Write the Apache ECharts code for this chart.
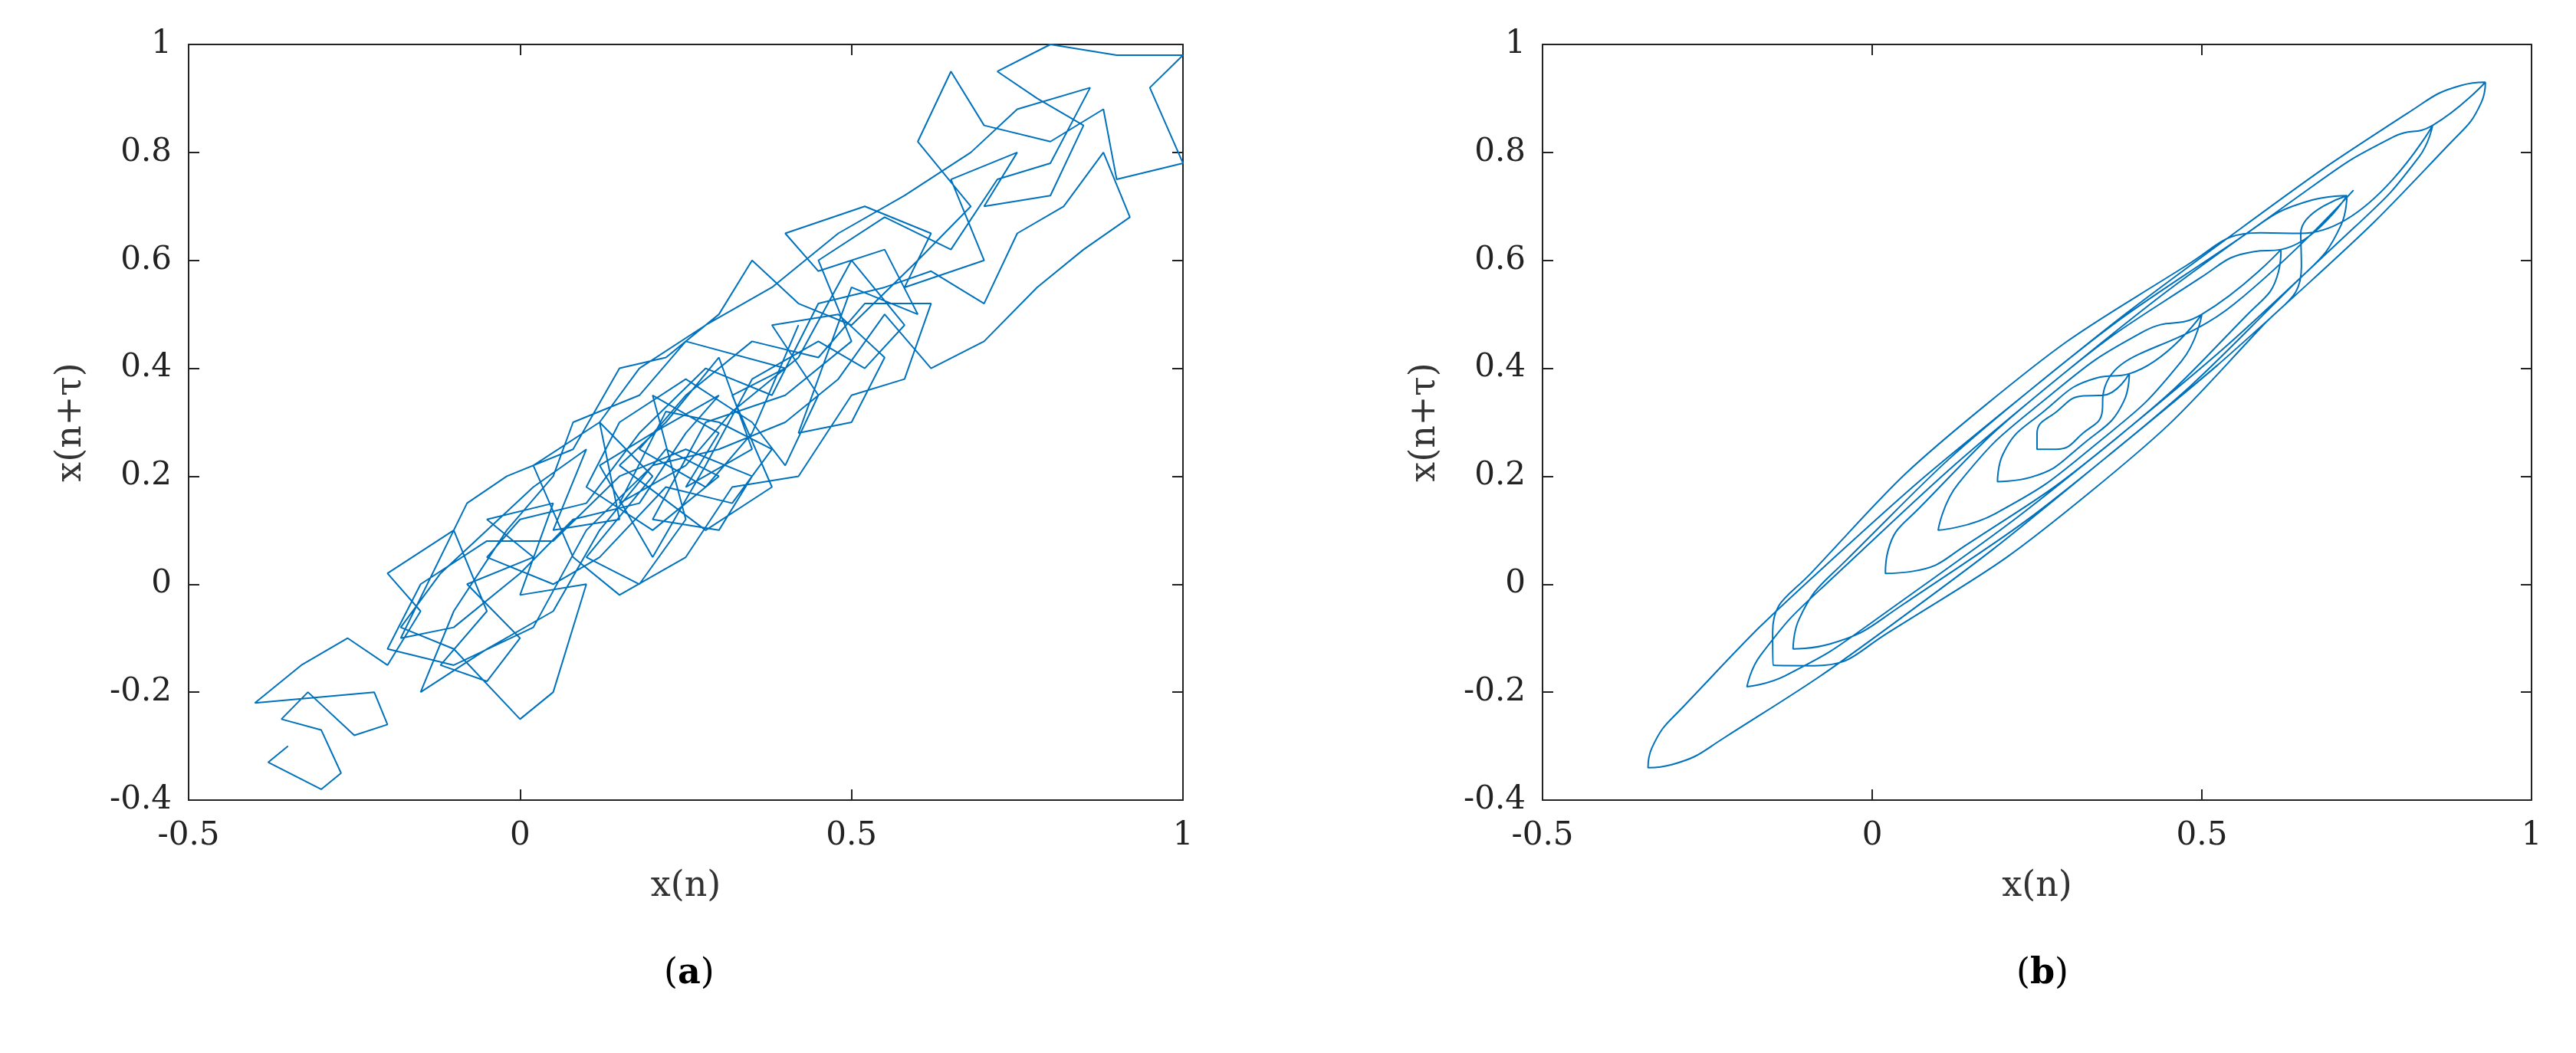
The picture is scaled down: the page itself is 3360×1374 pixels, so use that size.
<!DOCTYPE html>
<html><head><meta charset="utf-8">
<script src="https://cdn.jsdelivr.net/npm/echarts@6/dist/echarts.min.js"></script>
<style>html,body{margin:0;padding:0;background:#fff}#c{width:3360px;height:1374px}</style>
</head><body><div id="c"></div>
<script>
var xTicks = [-0.5, 0, 0.5, 1];
var yTicks = [-0.4, -0.2, 0, 0.2, 0.4, 0.6, 0.8, 1];

// (a) noisy phase trajectory
var pathA = [
[-0.35,-0.3],[-0.38,-0.33],[-0.3,-0.38],[-0.27,-0.35],[-0.3,-0.27],[-0.36,-0.25],[-0.32,-0.2],[-0.25,-0.28],[-0.2,-0.26],[-0.22,-0.2],
[-0.4,-0.22],[-0.33,-0.15],[-0.26,-0.1],[-0.2,-0.15],[-0.15,-0.05],[-0.2,0.02],[-0.1,0.1],[-0.05,-0.05],[-0.12,-0.15],[-0.05,-0.18],
[0.0,-0.1],[-0.08,0.0],[0.02,0.05],[-0.05,0.12],[0.05,0.15],[0.0,-0.02],[0.1,0.0],[0.05,-0.2],[0.0,-0.25],[-0.1,-0.12],
[-0.18,-0.08],[-0.12,0.02],[0.02,0.18],[0.1,0.25],[0.05,0.1],[0.15,0.12],[0.12,0.3],[0.2,0.2],[0.1,0.05],[0.18,0.0],
[0.25,0.12],[0.2,0.35],[0.3,0.28],[0.25,0.18],[0.35,0.25],[0.3,0.42],[0.22,0.3],[0.15,0.22],[0.28,0.1],[0.38,0.18],
[0.32,0.35],[0.4,0.4],[0.25,0.45],[0.18,0.35],[0.08,0.3],[0.05,0.2],[-0.02,0.1],[-0.1,-0.05],[-0.15,-0.2],[-0.05,-0.12],
[0.05,-0.05],[0.12,0.1],[0.22,0.25],[0.3,0.2],[0.2,0.1],[0.1,0.18],[0.15,0.3],[0.25,0.38],[0.35,0.3],[0.4,0.22],
[0.45,0.35],[0.38,0.48],[0.48,0.5],[0.55,0.42],[0.5,0.3],[0.42,0.28],[0.5,0.55],[0.6,0.5],[0.55,0.62],[0.45,0.58],
[0.4,0.65],[0.52,0.7],[0.62,0.65],[0.58,0.55],[0.7,0.6],[0.65,0.75],[0.75,0.8],[0.7,0.7],[0.8,0.72],[0.85,0.85],
[0.78,0.9],[0.72,0.95],[0.8,1.0],[0.9,0.98],[1.0,0.98],[0.95,0.92],[1.0,0.78],[0.9,0.75],[0.88,0.88],[0.8,0.82],
[0.7,0.85],[0.65,0.95],[0.6,0.82],[0.68,0.7],[0.6,0.6],[0.5,0.48],[0.42,0.52],[0.35,0.6],[0.3,0.5],[0.22,0.42],
[0.15,0.4],[0.08,0.25],[-0.02,0.2],[-0.08,0.15],[-0.18,-0.1],[-0.1,-0.08],[0.0,0.02],[0.08,0.12],[0.18,0.15],[0.25,0.28],
[0.3,0.35],[0.2,0.28],[0.12,0.22],[0.2,0.05],[0.28,0.22],[0.35,0.38],[0.45,0.45],[0.52,0.4],[0.58,0.48],[0.5,0.6],
[0.42,0.42],[0.32,0.32],[0.25,0.22],[0.15,0.15],[0.22,0.32],[0.3,0.3],[0.38,0.25],[0.32,0.15],[0.22,0.18],[0.12,0.05],
[0.05,0.0],[-0.05,0.05],[0.0,0.12],[0.1,0.15],[0.18,0.28],[0.28,0.4],[0.38,0.35],[0.45,0.52],[0.55,0.55],[0.62,0.58],
[0.7,0.52],[0.75,0.65],[0.82,0.7],[0.88,0.8],[0.92,0.68],[0.85,0.62],[0.78,0.55],[0.7,0.45],[0.62,0.4],[0.55,0.5],
[0.48,0.38],[0.4,0.3],[0.3,0.25],[0.2,0.22],[0.1,0.1],[0.02,-0.08],[-0.1,-0.15],[-0.2,-0.12],[-0.15,0.0],[-0.05,0.08],
[0.05,0.08],[0.15,0.2],[0.25,0.25],[0.35,0.2],[0.3,0.1],[0.2,0.12],[0.28,0.3],[0.4,0.35],[0.5,0.45],[0.45,0.6],
[0.55,0.68],[0.65,0.62],[0.72,0.75],[0.8,0.78],[0.86,0.92],[0.75,0.88],[0.68,0.8],[0.58,0.72],[0.48,0.65],[0.38,0.55],
[0.28,0.48],[0.18,0.4],[0.12,0.3],[0.02,0.22],[0.08,0.05],[0.15,-0.02],[0.25,0.05],[0.32,0.18],[0.42,0.2],[0.5,0.35],
[0.58,0.38],[0.62,0.52],[0.52,0.52],[0.45,0.42],[0.35,0.45],[0.25,0.35],[0.18,0.25],[0.28,0.18],[0.35,0.28],[0.42,0.48]
];

// (b) spiralling trajectory, points read approximately along each loop
var pathB = [
[0.93,0.93],[0.893,0.924],[0.815,0.875],[0.56,0.66],[0.235,0.355],[-0.075,0.03],[-0.285,-0.225],[-0.334,-0.303],[-0.34,-0.34],[-0.303,-0.334],[-0.225,-0.285],[0.03,-0.075],[0.355,0.235],[0.664,0.56],[0.875,0.815],[0.924,0.893],[0.93,0.93],
[0.85,0.85],[0.791,0.829],[0.663,0.733],[0.28,0.38],[-0.073,-0.003],[-0.169,-0.131],[-0.19,-0.19],[-0.131,-0.169],[-0.003,-0.073],[0.38,0.28],[0.733,0.663],[0.829,0.791],[0.85,0.85],
[0.65,0.65],[0.589,0.651],[0.476,0.59],[0.17,0.33],[-0.09,0.024],[-0.151,-0.089],[-0.15,-0.15],[-0.089,-0.151],[0.024,-0.09],[0.33,0.17],[0.59,0.476],[0.651,0.589],[0.65,0.65],
[0.72,0.72],[0.665,0.711],[0.555,0.639],[0.24,0.36],[-0.039,0.045],[-0.111,-0.065],[-0.12,-0.12],[-0.065,-0.111],[0.045,-0.039],[0.36,0.24],[0.639,0.555],[0.711,0.665],[0.72,0.72],
[0.62,0.62],[0.578,0.616],[0.497,0.567],[0.27,0.37],[0.073,0.143],[0.024,0.062],[0.02,0.02],[0.062,0.024],[0.143,0.073],[0.37,0.27],[0.567,0.497],[0.616,0.578],[0.62,0.62],
[0.5,0.5],[0.413,0.469],[0.26,0.34],[0.131,0.187],[0.1,0.1],[0.187,0.131],[0.34,0.26],[0.469,0.413],[0.5,0.5],
[0.39,0.39],[0.34,0.382],[0.26,0.32],[0.198,0.24],[0.19,0.19],[0.24,0.198],[0.32,0.26],[0.382,0.34],[0.39,0.39],
[0.35,0.35],[0.321,0.349],[0.28,0.32],[0.25,0.279],[0.25,0.25],[0.279,0.25],[0.32,0.28],[0.349,0.321],[0.35,0.35],
[0.55,0.52],[0.73,0.73]
];

var chart = echarts.init(document.getElementById('c'));
var font = 'DejaVu Serif';
var grids = [{left: 246, right: 1817, top: 58, bottom: 330}, {left: 2012, right: 58, top: 58, bottom: 330}];
var xAxes = [], yAxes = [], series = [], graphics = [];
function lab(v){ return String(v); }
[0, 1].forEach(function (i) {
    var base = {
        gridIndex: i, type: 'value',
        axisLine: {show: true, onZero: false, lineStyle: {color: '#222', width: 2}},
        axisTick: {show: true, inside: true, length: 14, lineStyle: {color: '#222', width: 2}},
        splitLine: {show: false}, nameTextStyle: {fontFamily: font, fontSize: 46, color: '#333'}
    };
    xAxes.push(Object.assign({}, base, {min: -0.5, max: 1, interval: 0.5, position: 'bottom',
        axisLabel: {fontFamily: font, fontSize: 42, color: '#222', margin: 26, formatter: lab},
        name: 'x(n)', nameLocation: 'middle', nameGap: 90}));
    xAxes.push(Object.assign({}, base, {min: -0.5, max: 1, interval: 0.5, position: 'top', axisLabel: {show: false}}));
    yAxes.push(Object.assign({}, base, {min: -0.4, max: 1, interval: 0.2, position: 'left',
        axisLabel: {fontFamily: font, fontSize: 42, color: '#222', margin: 22, formatter: lab},
        name: 'x(n+τ)', nameLocation: 'middle', nameGap: 130}));
    yAxes.push(Object.assign({}, base, {min: -0.4, max: 1, interval: 0.2, position: 'right', axisLabel: {show: false}}));
    series.push({
        type: 'line', xAxisIndex: i * 2, yAxisIndex: i * 2, data: i === 0 ? pathA : pathB,
        showSymbol: false, smooth: i === 0 ? false : 0.5, silent: true,
        lineStyle: {color: '#0072BD', width: 2}
    });
});
var capB = {fontFamily: font, fontSize: 46, color: '#000', fontWeight: 'bold'};
graphics.push({type: 'text', left: 866, top: 1248, style: {text: '({b|a})', font: '46px "DejaVu Serif"', fill: '#000', rich: {b: capB}}});
graphics.push({type: 'text', left: 2630, top: 1248, style: {text: '({b|b})', font: '46px "DejaVu Serif"', fill: '#000', rich: {b: capB}}});

chart.setOption({
    animation: false,
    grid: grids,
    xAxis: xAxes,
    yAxis: yAxes,
    series: series,
    graphic: graphics
});
</script></body></html>
